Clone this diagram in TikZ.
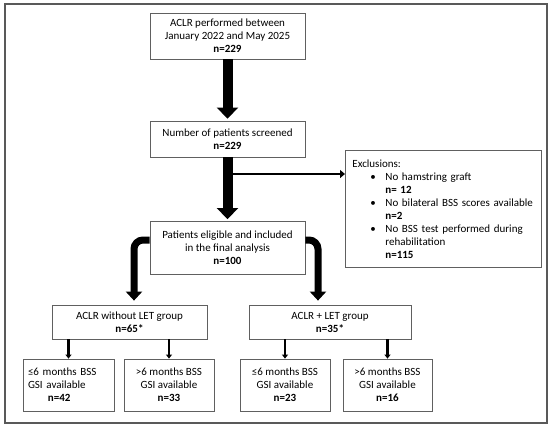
\documentclass[tikz,border=0pt]{standalone}
\usepackage{fontspec}
\setmainfont{Carlito}
\usetikzlibrary{arrows.meta}

\begin{document}
\begin{tikzpicture}[x=1pt,y=-1pt,font=\fontsize{11}{13}\selectfont,
  flowbox/.style={draw=gray!75!black,line width=0.8pt,fill=white,align=center,inner sep=0pt},
  fat/.style={line width=10pt,-{Triangle[width=21pt,length=11pt]}},
  split/.style={line width=7pt,rounded corners=9pt,-{Triangle[width=16pt,length=9pt]}},
  side/.style={line width=2.5pt,-{Triangle[width=8pt,length=5pt]}},
  drop/.style={line width=2.5pt,-{Triangle[width=6pt,length=4pt]}}]
\useasboundingbox (0,0) rectangle (550,429);
\draw[gray!70!black,line width=1.2pt] (5,4) rectangle (547,423);

\node[flowbox,minimum width=155pt,minimum height=46pt] (aclr) at (227.5,36)
  {ACLR performed between\\January 2022 and May 2025\\\textbf{n=229}};
\node[flowbox,minimum width=155pt,minimum height=36pt] (screened) at (227.5,139)
  {Number of patients screened\\\textbf{n=229}};
\node[flowbox,anchor=north west,align=left,text width=182pt,minimum height=117pt,inner xsep=7pt] (excl) at (345,150)
  {Exclusions:\\
   \hspace*{18pt}\makebox[15pt][l]{\textbullet}No hamstring graft\\
   \hspace*{33pt}\textbf{n= 12}\\
   \hspace*{18pt}\makebox[15pt][l]{\textbullet}No bilateral BSS scores available\\
   \hspace*{33pt}\textbf{n=2}\\
   \hspace*{18pt}\makebox[15pt][l]{\textbullet}No BSS test performed during\\
   \hspace*{33pt}rehabilitation\\
   \hspace*{33pt}\textbf{n=115}};
\node[flowbox,minimum width=155pt,minimum height=53pt] (final) at (227.5,247.5)
  {Patients eligible and included\\in the final analysis\\\textbf{n=100}};

\node[flowbox,minimum width=155pt,minimum height=34pt] (noLET) at (129.5,322)
  {ACLR without LET group\\\textbf{n=65*}};
\node[flowbox,minimum width=162pt,minimum height=34pt] (LET) at (330,322)
  {ACLR + LET group\\\textbf{n=35*}};

\node[flowbox,align=left,text width=81pt,inner xsep=5pt,minimum height=52pt] (noLETearly) at (68.5,385)
  {≤6 months BSS\\GSI available\\\hspace*{20pt}\textbf{n=42}};
\node[flowbox,minimum width=90pt,minimum height=52pt] (noLETlate) at (169,385)
  {>6 months BSS\\GSI available\\\textbf{n=33}};
\node[flowbox,minimum width=90pt,minimum height=52pt] (LETearly) at (285,385)
  {≤6 months BSS\\GSI available\\\textbf{n=23}};
\node[flowbox,minimum width=89pt,minimum height=52pt] (LETlate) at (387.5,385)
  {>6 months BSS\\GSI available\\\textbf{n=16}};

\draw[fat,shorten >=2pt] (aclr.south) -- (screened.north);
\draw[fat,shorten >=1.5pt] (screened.south) -- (final.north);
\coordinate (branch) at (227.5,174);
\draw[side] (branch) -- (branch -| excl.west);

\draw[split,shorten >=4pt] ([yshift=7.5pt]final.west) -| ([xshift=4.5pt]noLET.north);
\draw[split,shorten >=4pt] ([yshift=7.5pt]final.east) -| ([xshift=-12pt]LET.north);

\draw[drop] (noLETearly.north |- noLET.south) -- (noLETearly.north);
\draw[drop] (noLETlate.north |- noLET.south) -- (noLETlate.north);
\draw[drop] (LETearly.north |- LET.south) -- (LETearly.north);
\draw[drop] (LETlate.north |- LET.south) -- (LETlate.north);
\end{tikzpicture}
\end{document}
